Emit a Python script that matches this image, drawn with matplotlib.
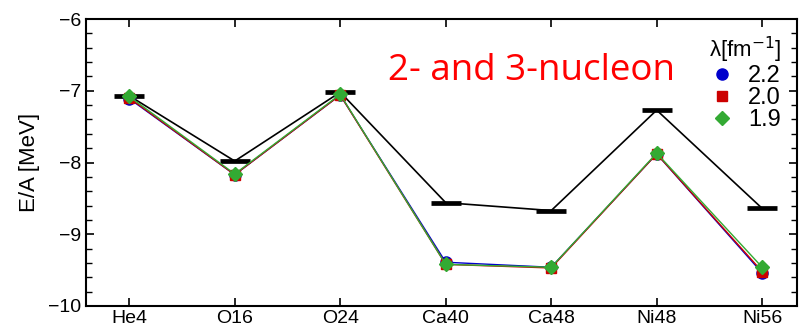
import numpy as np
import matplotlib.pyplot as plt
from matplotlib.ticker import MultipleLocator

# Данные
nuclei = ['He4', 'O16', 'O24', 'Ca40', 'Ca48', 'Ni48', 'Ni56']
exp_vals = [-7.07, -7.98, -7.02, -8.56, -8.67, -7.27, -8.64]
l22 = [-7.11, -8.17, -7.06, -9.39, -9.46, -7.88, -9.54]
l20 = [-7.10, -8.17, -7.06, -9.42, -9.47, -7.88, -9.52]
l19 = [-7.08, -8.16, -7.05, -9.42, -9.46, -7.87, -9.46]
lam_labels = ['2.2', '2.0', '1.9']

plt.rcParams['font.family'] = ['Liberation Sans', 'DejaVu Sans']

fig = plt.figure(figsize=(8.02, 3.28), dpi=100)
ax = fig.add_axes([86 / 802, 22 / 328, 711 / 802, 287 / 328])

x = np.arange(len(nuclei))

# Эксперимент
ax.plot(x, exp_vals, color='black', lw=1.2, zorder=2)
ax.plot(x, exp_vals, ls='none', marker='_', ms=22, mew=3.4, color='black', zorder=3)

# Расчёты
ax.plot(x, l22, color='#0000cc', lw=1.0, marker='o', ms=8, label=lam_labels[0], zorder=4)
ax.plot(x, l20, color='#cc0000', lw=1.0, marker='s', ms=7.5, label=lam_labels[1], zorder=5)
ax.plot(x, l19, color='#33aa33', lw=1.0, marker='D', ms=7.5, label=lam_labels[2], zorder=6)

ax.set_xlim(-0.41, 6.33)
ax.set_ylim(-10, -6)
ax.set_xticks(x)
ax.set_xticklabels(nuclei)
ax.yaxis.set_major_locator(MultipleLocator(1))
ax.yaxis.set_minor_locator(MultipleLocator(0.2))
ax.tick_params(axis='both', which='both', direction='in', top=True, right=True, labelsize=14)
ax.tick_params(axis='both', which='major', length=6, width=1.2)
ax.tick_params(axis='y', which='minor', length=4, width=1.0)
ax.tick_params(axis='x', pad=3)
for s in ax.spines.values():
    s.set_linewidth(1.5)

ax.set_ylabel('E/A [MeV]', fontsize=16, labelpad=6)

ax.text(0.425, 0.82, '2- and 3-nucleon', transform=ax.transAxes, color='red',
        fontsize=26.5, family='Open Sans', ha='left', va='center')

leg = ax.legend(title='λ[fm$^{-1}$]', loc='upper right', frameon=False,
                fontsize=17, title_fontsize=16, handlelength=1.0, handletextpad=0.6,
                labelspacing=0.0, borderaxespad=0.1, bbox_to_anchor=(0.995, 0.985))
for h in leg.legend_handles:
    h.set_linestyle('none')

fig.savefig('out.png', dpi=100)
